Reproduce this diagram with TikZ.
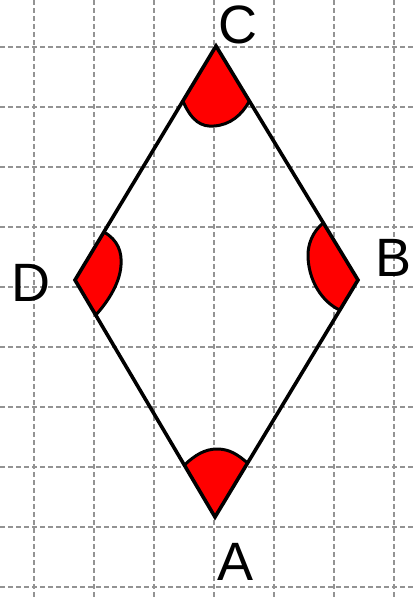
\documentclass[tikz,border=0pt]{standalone}
\usepackage{fontspec}
\setmainfont{Liberation Sans}
\usetikzlibrary{calc}
\begin{document}
\begin{tikzpicture}[x=1pt,y=-1pt,
  gridline/.style={draw=gray!85,line width=1.4pt,dash pattern=on 5pt off 3pt},
  side/.style={draw=black,line width=3.6pt,line join=miter},
  arcline/.style={draw=black,line width=3pt,line cap=round},
  sector/.style={fill=red},
  lbl/.style={font=\fontsize{54}{54}\selectfont,inner sep=0pt}]
\useasboundingbox (0,0) rectangle (415,600);
\fill[white] (0,0) rectangle (415,600);
% grid
\foreach \x in {34,94,154,214,274,334,394} \draw[gridline] (\x,0) -- (\x,600);
\foreach \y in {47,107,167,227,287,347,407,467,527,587} \draw[gridline] (0,\y) -- (415,\y);
% vertices
\coordinate (C) at (216,46);
\coordinate (B) at (358,280);
\coordinate (A) at (215,517);
\coordinate (D) at (75,280);
% arc end points on sides
\coordinate (c1) at ($(C)!0.235!(D)$);
\coordinate (c2) at ($(C)!0.235!(B)$);
\coordinate (a1) at ($(A)!0.219!(D)$);
\coordinate (a2) at ($(A)!0.228!(B)$);
\coordinate (d1) at ($(D)!0.205!(C)$);
\coordinate (d2) at ($(D)!0.148!(A)$);
\coordinate (b1) at ($(B)!0.244!(C)$);
\coordinate (b2) at ($(B)!0.127!(A)$);
% red sectors
\fill[sector] (C) -- (c1) .. controls (192,122) and (202,127) .. (214,126) .. controls (230,125) and (242,115) .. (c2) -- cycle;
\fill[sector] (A) -- (a1) .. controls (195,455) and (205,449) .. (217,449) .. controls (230,449) and (238,455) .. (a2) -- cycle;
\fill[sector] (D) -- (d1) .. controls (118,240) and (122,252) .. (121,265) .. controls (120,285) and (105,305) .. (d2) -- cycle;
\fill[sector] (B) -- (b1) .. controls (312,232) and (308,245) .. (308,255) .. controls (308,280) and (322,302) .. (b2) -- cycle;
% arcs
\draw[arcline] (c1) .. controls (192,122) and (202,127) .. (214,126) .. controls (230,125) and (242,115) .. (c2);
\draw[arcline] (a1) .. controls (195,455) and (205,449) .. (217,449) .. controls (230,449) and (238,455) .. (a2);
\draw[arcline] (d1) .. controls (118,240) and (122,252) .. (121,265) .. controls (120,285) and (105,305) .. (d2);
\draw[arcline] (b1) .. controls (312,232) and (308,245) .. (308,255) .. controls (308,280) and (322,302) .. (b2);
% rhombus
\draw[side] (A) -- (B) -- (C) -- (D) -- cycle;
% labels
\node[lbl] (lC) at (238,25) {C};
\node[lbl] (lB) at (394,258) {B};
\node[lbl] (lD) at (31,283) {D};
\node[lbl] (lA) at (236,562) {A};
\end{tikzpicture}
\end{document}
